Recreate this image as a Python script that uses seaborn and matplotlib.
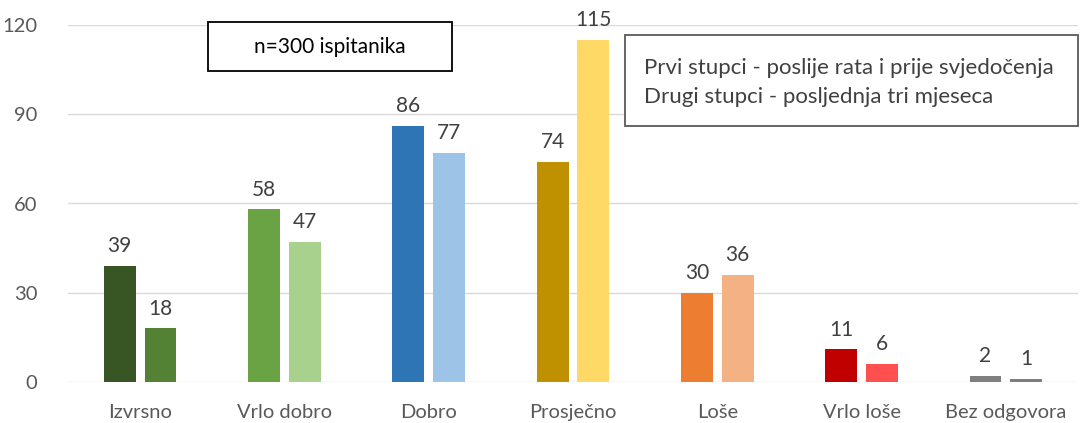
import matplotlib
matplotlib.use("Agg")
import matplotlib.pyplot as plt
import seaborn as sns
import pandas as pd
from matplotlib.patches import Rectangle

categories = ["Izvrsno", "Vrlo dobro", "Dobro", "Prosječno", "Loše", "Vrlo loše", "Bez odgovora"]
first_values = [39, 58, 86, 74, 30, 11, 2]
second_values = [18, 47, 77, 115, 36, 6, 1]
series_names = ["Prvi stupci", "Drugi stupci"]
first_colors = ["#375623", "#6AA344", "#2E75B6", "#BF9000", "#ED7D31", "#C00000", "#7F7F7F"]
second_colors = ["#548235", "#A9D18E", "#9DC3E6", "#FFD966", "#F4B183", "#FF5050", "#7F7F7F"]
yticks = [0, 30, 60, 90, 120]
note_text = "n=300 ispitanika"
legend_lines = ["Prvi stupci - poslije rata i prije svjedočenja",
                "Drugi stupci - posljednja tri mjeseca"]

df = pd.DataFrame({
    "kategorija": categories * 2,
    "serija": [series_names[0]] * len(categories) + [series_names[1]] * len(categories),
    "broj": first_values + second_values,
})

sns.set_theme(style="white")
plt.rcParams["font.family"] = ["Lato", "DejaVu Sans"]
text_color = "#595959"

W, H = 1080, 423
fig = plt.figure(figsize=(W / 100, H / 100), dpi=100)
ax = fig.add_axes([68 / W, 41 / H, (1078 - 68) / W, (382 - 25) / H])

sns.barplot(data=df, x="kategorija", y="broj", hue="serija", order=categories,
            hue_order=series_names, width=0.566, gap=0.22, legend=False, ax=ax,
            saturation=1, edgecolor="none")

for cont, cols in zip(ax.containers, [first_colors, second_colors]):
    for bar, c in zip(cont, cols):
        bar.set_facecolor(c)
    ax.bar_label(cont, padding=7, fontsize=15, color="#404040")

ax.set_ylim(0, 120)
ax.set_xlim(-0.5, len(categories) - 0.5)
ax.set_yticks(yticks)
ax.yaxis.grid(True, color="#D9D9D9", linewidth=1)
ax.set_axisbelow(True)
for s in ax.spines.values():
    s.set_visible(False)
ax.tick_params(axis="both", length=0, labelsize=14.5, labelcolor=text_color)
ax.tick_params(axis="y", pad=22)
ax.tick_params(axis="x", pad=16)
ax.set_xlabel("")
ax.set_ylabel("")

# n=300 box
fig.patches.append(Rectangle((208 / W, 1 - 71 / H), (452 - 208) / W, (71 - 22) / H,
                             transform=fig.transFigure, fill=True, facecolor="white",
                             edgecolor="black", linewidth=1.3, zorder=5))
fig.text(330 / W, 1 - 47 / H, note_text, ha="center", va="center", fontsize=15,
         color="black", zorder=6)

# legend box
fig.patches.append(Rectangle((625 / W, 1 - 126 / H), (1078 - 625) / W, (126 - 35) / H,
                             transform=fig.transFigure, fill=True, facecolor="white",
                             edgecolor="#595959", linewidth=1.3, zorder=5))
fig.text(644 / W, 1 - 68 / H, legend_lines[0], ha="left", va="center", fontsize=16,
         color="#404040", zorder=6)
fig.text(644 / W, 1 - 97 / H, legend_lines[1], ha="left", va="center", fontsize=16,
         color="#404040", zorder=6)

fig.savefig("out.png", dpi=100, facecolor="white")
